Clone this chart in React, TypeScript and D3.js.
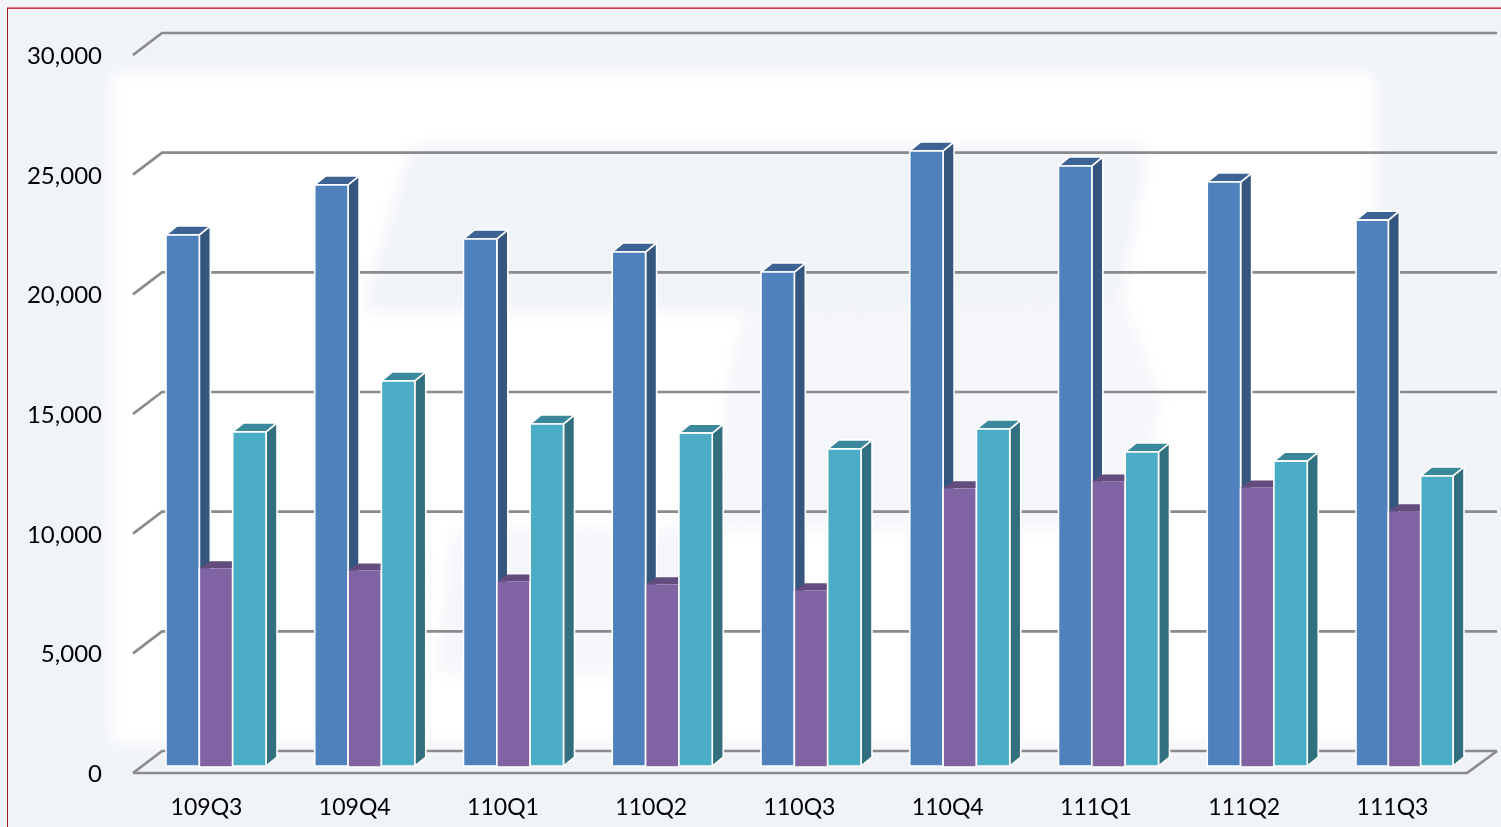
import * as d3 from 'd3';
import { useEffect, useRef } from 'react';

const categories = ['109Q3', '109Q4', '110Q1', '110Q2', '110Q3', '110Q4', '111Q1', '111Q2', '111Q3'];
const seriesNames = ['a', 'b', 'c'];
const seriesA = [22190, 24280, 22020, 21480, 20640, 25700, 25070, 24400, 22810];
const seriesB = [8260, 8170, 7710, 7590, 7340, 11600, 11890, 11640, 10640];
const seriesC = [13960, 16090, 14290, 13910, 13250, 14080, 13120, 12740, 12120];
const yTicks = [0, 5000, 10000, 15000, 20000, 25000, 30000];

const WIDTH = 1501;
const HEIGHT = 827;
const DEPTH_X = 11;
const DEPTH_Y = 9;

const palette = [
  { front: '#4f81bd', side: '#34567f', top: '#3c6494' },
  { front: '#8064a2', side: '#56436d', top: '#644d7e' },
  { front: '#4bacc6', side: '#316f80', top: '#3a879c' },
];

// faint logo shapes behind the bars
const logoTop: [number, number][] = [[412, 146], [1148, 146], [1122, 296], [745, 310], [362, 310]];
const logoBottom: [number, number][] = [[745, 310], [1122, 296], [1160, 398], [1138, 528], [452, 530], [436, 672], [700, 672], [725, 398]];

export default function App() {
  const svgRef = useRef<SVGSVGElement>(null);

  useEffect(() => {
    if (!svgRef.current) return;
    const svg = d3.select(svgRef.current);
    svg.selectAll('*').remove();

    const defs = svg.append('defs');
    defs.append('filter').attr('id', 'glow').attr('x', '-10%').attr('y', '-10%').attr('width', '120%').attr('height', '120%')
      .append('feGaussianBlur').attr('stdDeviation', 8);
    defs.append('filter').attr('id', 'soft').attr('x', '-5%').attr('y', '-5%').attr('width', '110%').attr('height', '110%')
      .append('feGaussianBlur').attr('stdDeviation', 0.4);

    const y = d3.scaleLinear().domain([0, 30000]).range([773, 55]);
    const xGroup = d3.scalePoint<string>().domain(categories).range([166, 1356]);
    const xLabel = d3.scalePoint<string>().domain(categories).range([206.5, 1392.5]);
    const poly = d3.line<[number, number]>();

    svg.append('rect').attr('width', WIDTH).attr('height', HEIGHT).attr('fill', '#f0f3f8');

    // white glow panel + logo
    svg.append('rect')
      .attr('x', 110).attr('y', 72).attr('width', 1266).attr('height', 672)
      .attr('rx', 10).attr('fill', '#ffffff').attr('filter', 'url(#glow)');
    const logo = svg.append('g').attr('filter', 'url(#glow)').attr('fill', '#f0f3f8');
    logo.append('path').attr('d', `${poly(logoTop)}Z`);
    logo.append('path').attr('d', `${poly(logoBottom)}Z`).attr('opacity', 0.75);

    // frame
    svg.append('line').attr('x1', 7).attr('x2', WIDTH).attr('y1', 7.5).attr('y2', 7.5)
      .attr('stroke', '#e07a7e').attr('stroke-width', 1);
    svg.append('line').attr('x1', 7).attr('x2', WIDTH).attr('y1', 8.5).attr('y2', 8.5)
      .attr('stroke', '#c23a42').attr('stroke-width', 1);
    svg.append('line').attr('x1', 7.5).attr('x2', 7.5).attr('y1', 8).attr('y2', HEIGHT)
      .attr('stroke', '#a81c24').attr('stroke-width', 1);

    // gridlines with the receding wall edge
    const grid = svg.append('g').attr('fill', 'none').attr('stroke', '#8b8b8b').attr('stroke-width', 2.7).attr('filter', 'url(#soft)');
    yTicks.forEach((t) => {
      const points: [number, number][] = [[133, y(t)], [162, y(t) - 22], [1497, y(t) - 22]];
      grid.append('path').attr('d', poly(points));
    });
    grid.append('path').attr('d', poly([[133, y(0)], [1467, y(0)], [1497, y(0) - 22]]));

    // bars, back to front inside each group
    const barY = d3.scaleLinear().domain([0, 30000]).range([766, 48]);
    const allSeries = [seriesA, seriesB, seriesC];
    const bars = svg.append('g').attr('stroke-linejoin', 'round').attr('filter', 'url(#soft)');
    categories.forEach((cat, i) => {
      // the last group sits a touch narrower in the source image
      const span = i === categories.length - 1 ? 97 : 100;
      const xBar = d3.scaleBand<string>().domain(seriesNames).range([0, span]);
      const bw = xBar.bandwidth();
      allSeries.forEach((values, s) => {
        const x0 = (xGroup(cat) as number) + (xBar(seriesNames[s]) as number);
        const x1 = x0 + bw;
        const top = barY(values[i]);
        const base = s === 1 ? 767 : 766;
        const c = palette[s];
        const edge = s === 1 ? 'none' : '#ffffff';
        const depthY = s === 1 ? DEPTH_Y - 2 : DEPTH_Y;
        bars.append('path').attr('fill', c.side).attr('stroke', edge).attr('stroke-width', 1.6)
          .attr('d', `${poly([[x1, top], [x1 + DEPTH_X, top - depthY], [x1 + DEPTH_X, base - depthY], [x1, base]])}Z`);
        bars.append('path').attr('fill', c.top).attr('stroke', edge).attr('stroke-width', 1.6)
          .attr('d', `${poly([[x0, top], [x0 + DEPTH_X, top - depthY], [x1 + DEPTH_X, top - depthY], [x1, top]])}Z`);
        bars.append('rect').attr('fill', c.front).attr('stroke', edge).attr('stroke-width', 1.6)
          .attr('x', x0).attr('y', top).attr('width', bw).attr('height', base - top);
        if (s === 1) {
          // purple has no bright top edge, only the sides and the foot
          bars.append('path').attr('fill', 'none').attr('stroke', '#ffffff').attr('stroke-width', 1.6)
            .attr('d', poly([[x0, top], [x0, base], [x1, base], [x1, top]]));
        }
      });
    });

    // axis labels
    const font = 'Lato, Carlito, sans-serif';
    svg.append('g').selectAll('text').data(yTicks).join('text')
      .attr('x', 102).attr('y', (d) => y(d) + 0.5)
      .attr('dy', '0.35em').attr('text-anchor', 'end')
      .attr('font-family', font).attr('font-size', 24).attr('fill', '#000000')
      .text((d) => d3.format(',')(d));
    svg.append('g').selectAll('text').data(categories).join('text')
      .attr('x', (d) => xLabel(d) as number).attr('y', 807)
      .attr('dy', '0.35em').attr('text-anchor', 'middle')
      .attr('font-family', font).attr('font-size', 23).attr('fill', '#000000')
      .text((d) => d);
  }, []);

  return (
    <svg
      ref={svgRef}
      width={WIDTH}
      height={HEIGHT}
      style={{ position: 'fixed', left: 0, top: 0, display: 'block' }}
    />
  );
}
